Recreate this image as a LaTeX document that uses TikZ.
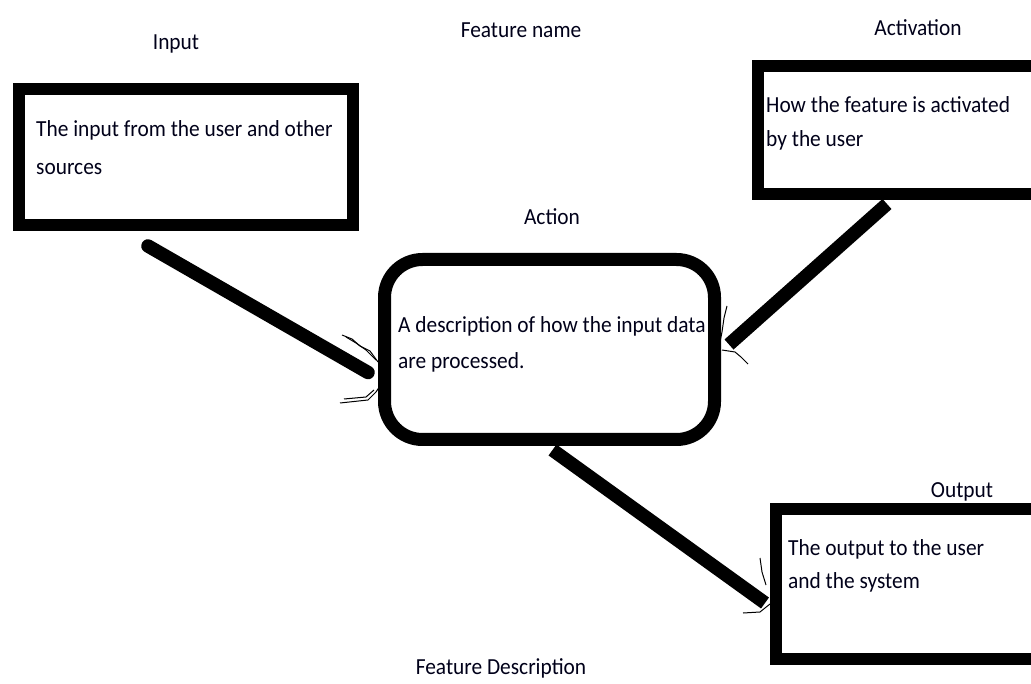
\documentclass[tikz,border=0pt]{standalone}
\usepackage{fontspec}
\setmainfont{Carlito}[FakeStretch=0.93]
\begin{document}
\begin{tikzpicture}[x=1pt,y=-1pt,
  box/.style={draw=black,line width=12pt,inner sep=0pt,fill=white},
  txt/.style={anchor=base west,inner sep=0pt,font=\fontsize{23}{28}\selectfont,text=black!90!blue},
  ttl/.style={inner sep=0pt,font=\fontsize{23}{28}\selectfont,text=black!90!blue},
  conn/.style={line width=13.5pt,line cap=butt},
  tip/.style={line width=1pt,line join=round}]
\useasboundingbox (0,0) rectangle (1031,684);

% boxes
\node[box,minimum width=334pt,minimum height=136pt] (inp) at (186,157) {};
\node[box,minimum width=281pt,minimum height=128pt] (actv) at (898.5,130) {};
\node[box,rounded corners=38pt,line width=13pt,minimum width=330pt,minimum height=180pt] (act) at (549.5,349.5) {};
\node[box,minimum width=269pt,minimum height=150pt] (outp) at (910.5,584) {};

% box contents, one node per line
\node[txt] (inpA) at (36,137) {The input from the user and other};
\node[txt] (inpB) at (36,175) {sources};
\node[txt] (actvA) at (766,113) {How the feature is activated};
\node[txt] (actvB) at (766,147) {by the user};
\node[txt] (actA) at (398,333) {A description of how the input data};
\node[txt] (actB) at (398,369) {are processed.};
\node[txt] (outpA) at (788,555) {The output to the user};
\node[txt] (outpB) at (788,588) {and the system};

% titles
\node[ttl] (tInp) at (176,44) {Input};
\node[ttl] (tName) at (521,30) {Feature name};
\node[ttl] (tActv) at (918,28) {Activation};
\node[ttl] (tAct) at (552,217) {Action};
\node[ttl] (tOut) at (962,492) {Output};
\node[ttl] (tDesc) at (501,668) {Feature Description};

% connectors
\draw[conn,line cap=round] ([shift={(135,15)}]inp.south west) -- ([shift={(-10,23)}]act.west);
\draw[conn] ([shift={(135,4)}]actv.south west) -- ([shift={(8,-5)}]act.east);
\draw[conn] ([shift={(3,4)}]act.south) -- ([shift={(-5,19)}]outp.west);

% hand-drawn arrow tips
\draw[tip] (342,335) -- (352,339) -- (360,346) -- (370,351) -- (378,362);
\draw[tip] (346,337) -- (356,343) -- (366,350) -- (376,360);
\draw[tip] (340,403) -- (368,400) -- (376,392) -- (380,386);
\draw[tip] (344,399) -- (366,397) -- (374,390);
\draw[tip] (727,306) -- (724,318) -- (722,332) -- (720,342);
\draw[tip] (722,350) -- (735,352) -- (741,357) -- (748,364);
\draw[tip] (760,558) -- (762,572) -- (766,585);
\draw[tip] (743,613) -- (760,612) -- (770,604);
\end{tikzpicture}
\end{document}
